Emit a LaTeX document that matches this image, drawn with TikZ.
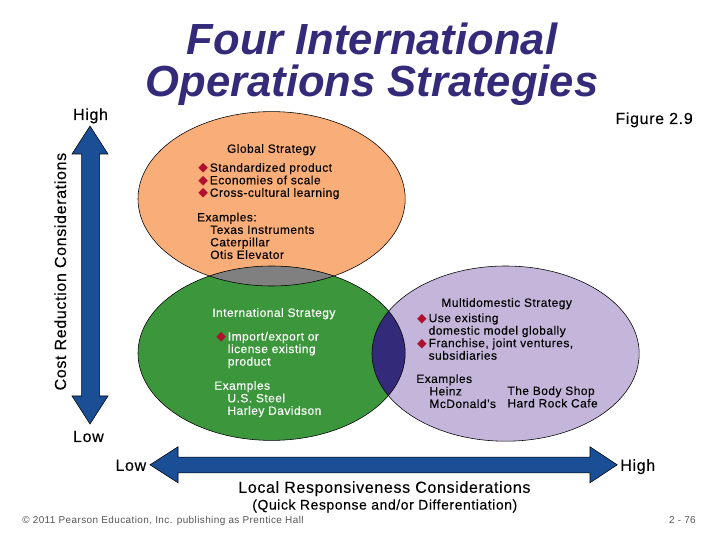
\documentclass[tikz,border=0pt]{standalone}
\usepackage{fontspec}
\setmainfont[LetterSpace=4,FakeBold=0.2]{Liberation Sans}
\newfontfamily\titlefont{Liberation Sans}
\newfontfamily\footfont[LetterSpace=4]{Liberation Sans}
\newfontfamily\symfont{DejaVu Sans}
\definecolor{peach}{RGB}{249, 173, 120}
\definecolor{leaf}{RGB}{60, 150, 60}
\definecolor{lilac}{RGB}{196, 182, 219}
\definecolor{overlapgray}{RGB}{128, 128, 128}
\definecolor{indigo}{RGB}{52, 42, 122}
\definecolor{axisblue}{RGB}{26, 79, 150}
\definecolor{bulletred}{RGB}{176, 16, 48}
\definecolor{footgray}{RGB}{85, 85, 85}
\newcommand{\bul}{\makebox[0.29cm][l]{\symfont\fontsize{9}{8.9}\selectfont\textcolor{bulletred}{◆}}}
\newcommand{\ind}{\hspace*{0.33cm}}
\tikzset{
    body/.style={inner sep=0pt, align=left, anchor=north west, font=\fontsize{8.5}{8.9}\selectfont},
    head/.style={inner sep=0pt, anchor=base west, font=\fontsize{8.5}{8.9}\selectfont},
    axislabel/.style={inner sep=0pt, anchor=base west, font=\fontsize{11.4}{13}\selectfont},
    foot/.style={inner sep=0pt, anchor=base west, text=footgray, font=\footfont\fontsize{7.1}{8}\selectfont},
    axisarrow/.style={fill=axisblue, draw=black, line width=0.4pt, line join=miter}
}

\begin{document}
\begin{tikzpicture}
    % Frame to ensure alignment:
    \useasboundingbox (0.00, 0.00) rectangle (18.00, 13.50);
    % Strategy fields
    \fill[peach] (6.79, 8.53) ellipse (3.34 and 2.18);
    \fill[leaf]  (6.79, 4.67) ellipse (3.34 and 2.18);
    \fill[lilac] (12.64, 4.66) ellipse (3.34 and 2.19);
    % Overlaps
    \begin{scope}
        \clip (6.79, 8.53) ellipse (3.34 and 2.18);
        \fill[overlapgray] (6.79, 4.67) ellipse (3.34 and 2.18);
    \end{scope}
    \begin{scope}
        \clip (6.79, 4.67) ellipse (3.34 and 2.18);
        \fill[indigo] (12.64, 4.66) ellipse (3.34 and 2.19);
    \end{scope}
    % Outlines
    \draw[line width=0.4pt] (6.79, 8.53) ellipse (3.34 and 2.18);
    \draw[line width=0.4pt] (6.79, 4.67) ellipse (3.34 and 2.18);
    \draw[line width=0.4pt] (12.64, 4.66) ellipse (3.34 and 2.19);
    % Cost axis
    \draw[axisarrow] (2.25, 10.35) -- (2.70, 9.65) -- (2.49, 9.65) -- (2.49, 3.60) -- (2.70, 3.60)
        -- (2.25, 2.90) -- (1.80, 3.60) -- (2.04, 3.60) -- (2.04, 9.65) -- (1.80, 9.65) -- cycle;
    % Responsiveness axis
    \draw[axisarrow] (3.75, 1.88) -- (4.45, 2.33) -- (4.45, 2.07) -- (14.75, 2.07) -- (14.75, 2.33)
        -- (15.43, 1.88) -- (14.75, 1.43) -- (14.75, 1.68) -- (4.45, 1.68) -- (4.45, 1.43) -- cycle;
    % Title
    \node[inner sep=0pt, text=indigo, align=center, anchor=base, font=\titlefont\fontsize{31}{29.9}\selectfont\bfseries\itshape]
        (title) at (9.30, 11.08) {Four International\\Operations Strategies};
    % Global
    \node[head] (globalName) at (5.67, 9.68) {Global Strategy};
    \node[body] (globalPoints) at (4.95, 9.43) {\bul Standardized product\\\bul Economies of scale\\\bul Cross-cultural learning};
    \node[body] (globalExamples) at (4.92, 8.19) {Examples:\\\ind Texas Instruments\\\ind Caterpillar\\\ind Otis Elevator};
    % International
    \node[head, text=white] (interName) at (5.30, 5.58) {International Strategy};
    \node[body, text=white] (interPoints) at (5.40, 5.21) {\bul Import/export or\\\hspace*{0.29cm}license existing\\\hspace*{0.29cm}product};
    \node[body, text=white] (interExamples) at (5.35, 3.98) {Examples\\\ind U.S. Steel\\\ind Harley Davidson};
    % Multidomestic
    \node[head] (multiName) at (11.03, 5.83) {Multidomestic Strategy};
    \node[body] (multiPoints) at (10.42, 5.67) {\bul Use existing\\\hspace*{0.29cm}domestic model globally\\\bul Franchise, joint ventures,\\\hspace*{0.29cm}subsidiaries};
    \node[body] (multiExamples) at (10.40, 4.15) {Examples\\\ind Heinz\\\ind McDonald’s};
    \node[body] (multiExamplesB) at (12.68, 3.85) {The Body Shop\\Hard Rock Cafe};
    % Axis labels
    \node[axislabel] (highCost) at (1.82, 10.50) {High};
    \node[axislabel] (lowCost) at (1.82, 2.45) {Low};
    \node[axislabel, anchor=base, rotate=90] (costName) at (1.65, 6.71) {Cost Reduction Considerations};
    \node[axislabel] (lowLocal) at (2.88, 1.73) {Low};
    \node[axislabel] (highLocal) at (15.50, 1.73) {High};
    \node[axislabel, anchor=base] (localName) at (9.61, 1.18) {Local Responsiveness Considerations};
    \node[axislabel, anchor=base, font=\fontsize{9.95}{11}\selectfont] (localNote) at (9.62, 0.76) {(Quick Response and/or Differentiation)};
    \node[axislabel] (figureTag) at (15.38, 10.40) {Figure 2.9};
    % Footer
    \node[foot] (copyright) at (0.55, 0.42) {© 2011 Pearson Education, Inc. publishing as Prentice Hall};
    \node[foot] (pageTag) at (16.72, 0.42) {2 - 76};
\end{tikzpicture}
\end{document}
